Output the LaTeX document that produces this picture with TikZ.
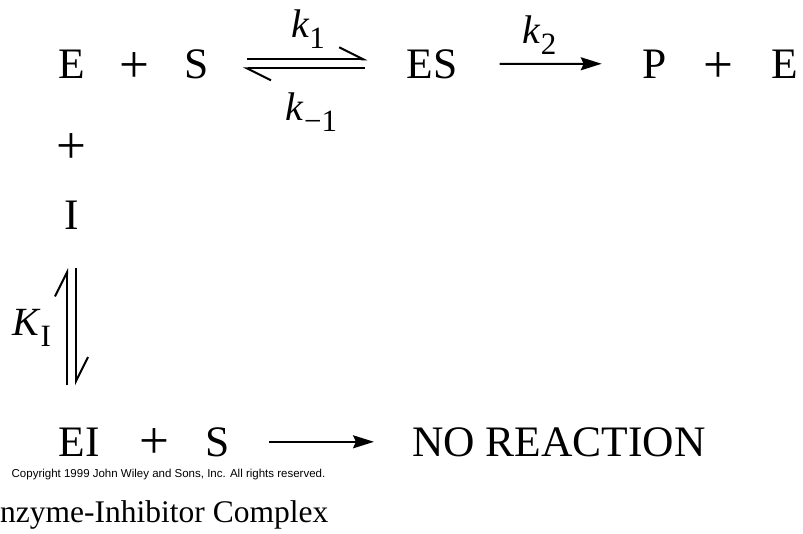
\documentclass[tikz,border=0pt]{standalone}
\usepackage{fontspec}
\setmainfont{Liberation Serif}
\setsansfont{Liberation Sans}
\usetikzlibrary{arrows.meta}

\newcommand\chemsize{\fontsize{43.5}{50}\selectfont}
\newcommand\plussize{\fontsize{53}{60}\selectfont}
\newcommand\ratesize{\fontsize{40}{46}\selectfont}
\newcommand\subsize{\fontsize{31}{36}\selectfont}
\newcommand\rsub[1]{\raisebox{-11pt}{\subsize #1}}

\begin{document}
\begin{tikzpicture}[
  x=1pt, y=-1pt,
  chem/.style={font=\chemsize, inner sep=0pt, anchor=base},
  plus/.style={font=\plussize, inner sep=0pt, anchor=center},
  rate/.style={font=\ratesize, inner sep=0pt, anchor=base},
  harp/.style={line width=2pt, -{Straight Barb[left, length=24pt, width=24pt]}},
  arr/.style={line width=2pt, -{Stealth[length=21pt, width=13pt, inset=3pt]}}
]
  \useasboundingbox (0,0) rectangle (803,533);

  % top row
  \node[chem] (E1) at (71.5,78) {E};
  \node[plus] (plus1) at (134.5,67.5) {+};
  \node[chem] (S1) at (196.5,78) {S};
  \node[chem] (ES) at (432,78) {ES};
  \node[chem] (P) at (655,78) {P};
  \node[plus] (plus2) at (718,67.5) {+};
  \node[chem] (E2) at (785,78) {E};

  % inhibitor column
  \node[plus] (plus3) at (71.5,149) {+};
  \node[chem] (I) at (71.5,229) {I};

  % bottom row
  \node[chem] (EI) at (79,456) {EI};
  \node[plus] (plus4) at (154.5,444) {+};
  \node[chem] (S2) at (217.5,456) {S};
  \node[chem] (noreact) at (559,456) {NO REACTION};

  % rate constants
  \node[rate] (k1) at (308,37) {\textit{k}\rsub{1}};
  \node[rate] (km1) at (311.5,120) {\textit{k}\rsub{−1}};
  \node[rate] (k2) at (539.5,43) {\textit{k}\rsub{2}};
  \node[rate] (KI) at (31.5,335) {\textit{K}\rsub{I}};

  \draw[harp, shorten <=38pt, shorten >=39pt] ([yshift=4.5pt]S1.east) -- ([yshift=4.5pt]ES.west);
  \draw[harp, shorten <=41pt, shorten >=34pt] ([yshift=-4.5pt]ES.west) -- ([yshift=-4.5pt]S1.east);
  \draw[arr, shorten <=42pt, shorten >=41pt] (ES) -- (P);
  \draw[harp, shorten <=42pt, shorten >=39pt] ([xshift=-4.5pt]I.south |- EI.north) -- ([xshift=-4.5pt]I.south);
  \draw[harp, shorten <=39pt, shorten >=42pt] ([xshift=4.5pt]I.south) -- ([xshift=4.5pt]I.south |- EI.north);
  \draw[arr, shorten <=39pt, shorten >=38pt] (S2) -- (noreact);

  \node[font=\sffamily\fontsize{11.5}{13}\selectfont, inner sep=0pt, anchor=base] (copy) at (168.5,477)
    {Copyright 1999 John Wiley and Sons, Inc. All rights reserved.};
  \node[font=\fontsize{31.5}{36}\selectfont, inner sep=0pt, anchor=base west] (caption) at (0,522)
    {nzyme-Inhibitor Complex};
\end{tikzpicture}
\end{document}
